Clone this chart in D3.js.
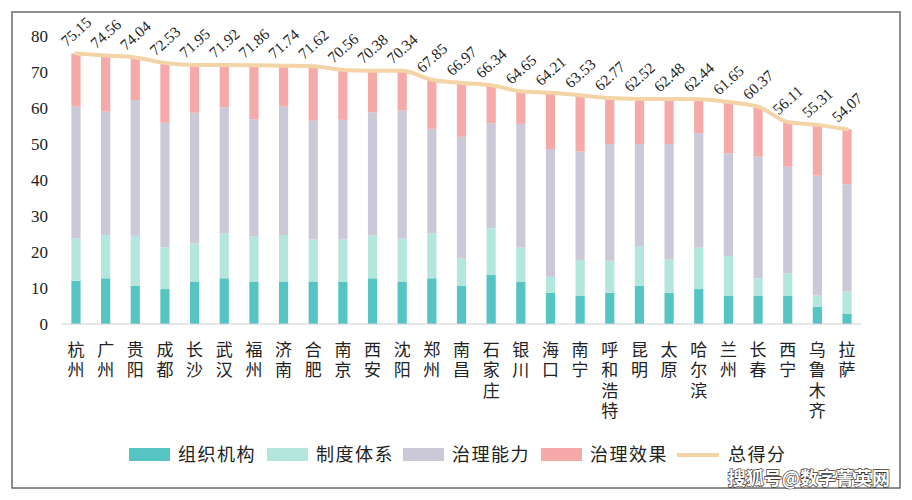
<!DOCTYPE html>
<html><head><meta charset="utf-8">
<script src="https://cdn.jsdelivr.net/npm/d3@7"></script>
<style>body{margin:0;background:#fff}svg{display:block}</style>
</head><body><svg id="c" width="912" height="500"></svg>
<script>
const cities = ["杭州","广州","贵阳","成都","长沙","武汉","福州","济南","合肥","南京","西安","沈阳","郑州","南昌","石家庄","银川","海口","南宁","呼和浩特","昆明","太原","哈尔滨","兰州","长春","西宁","乌鲁木齐","拉萨"];
const zuzhi  = [12.0,12.7,10.6,9.7,11.8,12.7,11.8,11.8,11.8,11.8,12.7,11.8,12.7,10.6,13.6,11.8,8.7,7.8,8.7,10.6,8.7,9.7,7.8,7.8,7.8,4.8,2.8];
const zhidu  = [11.8,12.0,13.9,11.6,10.6,12.5,12.5,12.9,11.7,11.7,11.9,11.9,12.5,7.6,13.0,9.4,4.4,10.0,8.9,10.9,9.3,11.5,11.1,4.9,6.3,3.1,6.2];
const nengli = [36.6,34.3,37.7,34.6,36.3,35.0,32.6,35.7,33.0,33.2,34.2,35.6,29.0,33.8,29.1,34.4,35.5,30.1,32.4,28.5,32.0,31.8,28.5,33.8,29.6,33.3,29.8];
const xiaoguo= [14.75,15.56,11.84,16.63,13.25,11.72,14.96,11.34,15.12,13.86,11.58,11.04,13.65,14.97,10.64,9.05,15.61,15.63,12.77,12.52,12.48,9.44,14.25,13.87,12.41,14.11,15.27];
const total  = [75.15,74.56,74.04,72.53,71.95,71.92,71.86,71.74,71.62,70.56,70.38,70.34,67.85,66.97,66.34,64.65,64.21,63.53,62.77,62.52,62.48,62.44,61.65,60.37,56.11,55.31,54.07];
const yTicks = [0,10,20,30,40,50,60,70,80];
const seriesNames = ["组织机构","制度体系","治理能力","治理效果"];
const lineName = "总得分";
const colors = ["#55c4c3","#b3e7dd","#cbc9d8","#f5a9a8"];
const lineColor = "#f4d4a6";

const svg = d3.select("#c");
const serif = "'Liberation Serif','Times New Roman',serif";
const cjk = "'Noto Sans CJK SC','Noto Sans CJK JP',sans-serif";

// frame
svg.append("rect").attr("x",12).attr("y",12).attr("width",888).attr("height",476)
  .attr("fill","none").attr("stroke","#6a6a6a").attr("stroke-width",1.5);

const x = d3.scaleBand().domain(cities).range([61,862]).paddingInner(0.69).paddingOuter(0.35);
const y = d3.scaleLinear().domain([0,80]).range([324,36]);

const table = cities.map((c,i)=>({city:c, s0:zuzhi[i], s1:zhidu[i], s2:nengli[i], s3:xiaoguo[i], total:total[i]}));
const stack = d3.stack().keys(["s0","s1","s2","s3"])(table);

svg.append("g").selectAll("g").data(stack).join("g")
  .attr("fill",(d,i)=>colors[i])
  .selectAll("rect").data(d=>d).join("rect")
  .attr("x",d=>x(d.data.city)).attr("width",x.bandwidth())
  .attr("y",d=>y(d[1])).attr("height",d=>y(d[0])-y(d[1]));

// axis baseline
svg.append("line").attr("x1",61).attr("x2",862).attr("y1",y(0)).attr("y2",y(0))
  .attr("stroke","#d0d0d0").attr("stroke-width",1.2);

// y axis labels
const yAxis = d3.axisLeft(y).tickValues(yTicks).tickSize(0).tickPadding(0);
const ga = svg.append("g").attr("transform","translate(48,0)").call(yAxis);
ga.select(".domain").remove();
ga.selectAll("text").attr("font-family",serif).attr("font-size",17).attr("fill","#222");

// total line
const line = d3.line().x((d,i)=>x(cities[i])+x.bandwidth()/2).y(d=>y(d)).curve(d3.curveMonotoneX);
svg.append("path").datum(total).attr("d",line).attr("fill","none")
  .attr("stroke",lineColor).attr("stroke-width",4).attr("stroke-linecap","round");

// value labels
svg.append("g").selectAll("text").data(total).join("text")
  .attr("transform",(d,i)=>`translate(${x(cities[i])+x.bandwidth()/2},${y(d)-22}) rotate(-42)`)
  .attr("text-anchor","middle").attr("dy","0.35em")
  .attr("font-family",serif).attr("font-size",15.5).attr("fill","#222")
  .text(d=>d.toFixed(2));

// x labels, vertical writing, one text per city
svg.append("g").selectAll("text").data(cities).join("text")
  .attr("x",d=>x(d)+x.bandwidth()/2).attr("y",341)
  .style("writing-mode","vertical-rl").style("text-orientation","upright")
  .attr("letter-spacing",3.5)
  .attr("font-family",cjk).attr("font-size",17).attr("fill","#222")
  .text(d=>d);

// legend
const legX = [129,267,403,541];
const lg = svg.append("g");
seriesNames.forEach((n,i)=>{
  lg.append("rect").attr("x",legX[i]).attr("y",448).attr("width",41).attr("height",13).attr("fill",colors[i]);
  lg.append("text").attr("x",legX[i]+49).attr("y",461)
    .attr("font-family",cjk).attr("font-size",18).attr("letter-spacing",1.5).attr("fill","#222").text(n);
});
lg.append("line").attr("x1",677).attr("x2",719).attr("y1",455).attr("y2",455)
  .attr("stroke",lineColor).attr("stroke-width",4);
lg.append("text").attr("x",728).attr("y",461)
  .attr("font-family",cjk).attr("font-size",18).attr("letter-spacing",1.5).attr("fill","#222").text(lineName);

// watermark
svg.append("text").attr("x",890).attr("y",485).attr("text-anchor","end")
  .attr("font-family",cjk).attr("font-size",18).attr("font-weight","bold")
  .attr("fill","#fff").attr("stroke","#333").attr("stroke-width",1.3).attr("paint-order","stroke")
  .text("搜狐号@数字菁英网");
</script></body></html>
